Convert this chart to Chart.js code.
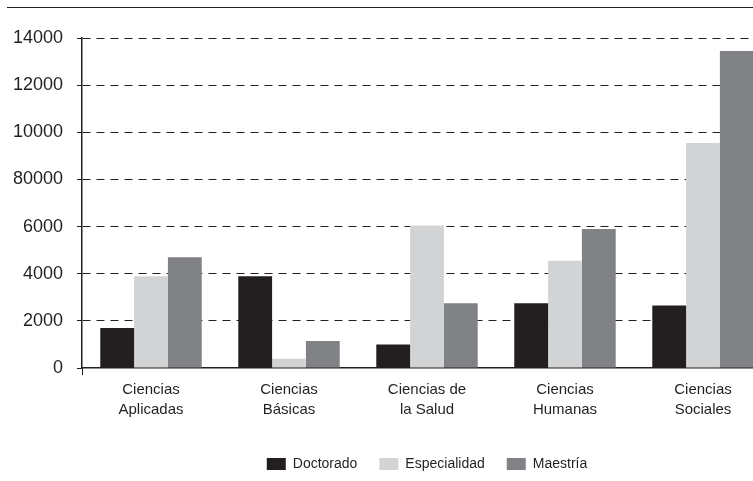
<!DOCTYPE html>
<html>
<head>
<meta charset="utf-8">
<script src="https://cdn.jsdelivr.net/npm/chart.js@4.4.0/dist/chart.umd.min.js"></script>
<style>
  html, body { margin: 0; padding: 0; background: #fff; overflow: hidden; }
  #wrap { position: relative; width: 753px; height: 481px; overflow: hidden; }
  #rule { position: absolute; left: 7px; right: 0; top: 7px; border-top: 1.5px solid #231f20; }
  #chart { position: absolute; left: 0; top: 0; }
</style>
</head>
<body>
<div id="wrap">
  <div id="rule"></div>
  <canvas id="chart" width="772" height="481"></canvas>
</div>
<script>
// datos
const categorias = [
  ['Ciencias', 'Aplicadas'],
  ['Ciencias', 'Básicas'],
  ['Ciencias de', 'la Salud'],
  ['Ciencias', 'Humanas'],
  ['Ciencias', 'Sociales']
];
const doctorado = [1700, 3900, 1000, 2750, 2650];
const especialidad = [3900, 400, 6050, 4550, 9550];
const maestria = [4700, 1150, 2750, 5900, 13450];
// etiquetas del eje tal como aparecen (incluye el 80000 del original)
const etiquetasY = ['0', '2000', '4000', '6000', '80000', '10000', '12000', '14000'];

const FUENTE = "'Liberation Sans Narrow', 'Arial Narrow', 'Liberation Sans', sans-serif";
const NEGRO = '#231f20';

const ctx = document.getElementById('chart').getContext('2d');
const chart = new Chart(ctx, {
  type: 'bar',
  data: {
    labels: categorias,
    datasets: [
      { label: 'Doctorado', data: doctorado, backgroundColor: '#231f20' },
      { label: 'Especialidad', data: especialidad, backgroundColor: '#d1d3d4' },
      { label: 'Maestría', data: maestria, backgroundColor: '#808285' }
    ]
  },
  options: {
    responsive: false,
    animation: false,
    events: [],
    layout: { padding: { top: 38, right: 0, bottom: 0, left: 0 } },
    datasets: { bar: { categoryPercentage: 0.735, barPercentage: 1 } },
    plugins: {
      tooltip: { enabled: false },
      legend: {
        position: 'bottom',
        fullSize: false,
        labels: {
          color: NEGRO,
          font: { family: FUENTE, size: 14 },
          boxWidth: 19,
          boxHeight: 12,
          padding: 22
        }
      }
    },
    scales: {
      x: {
        afterFit: s => { s.height += 10; },
        grid: {
          drawOnChartArea: false,
          tickLength: 7,
          tickColor: c => c.index === 0 ? NEGRO : 'rgba(0,0,0,0)'
        },
        border: { color: NEGRO, width: 1.5 },
        ticks: {
          color: NEGRO,
          font: { family: FUENTE, size: 15, lineHeight: 1.33 },
          padding: 5,
          maxRotation: 0,
          autoSkip: false
        }
      },
      y: {
        min: 0,
        max: 14000,
        afterFit: s => { s.width = 82; },
        grid: {
          color: c => c.tick && c.tick.value === 0 ? 'rgba(0,0,0,0)' : NEGRO,
          tickColor: NEGRO,
          tickLength: 5,
          tickBorderDash: []
        },
        border: { color: NEGRO, width: 1.5, dash: [8, 6] },
        ticks: {
          stepSize: 2000,
          color: NEGRO,
          font: { family: FUENTE, size: 18 },
          padding: 14,
          callback: (v, i) => etiquetasY[i]
        }
      }
    }
  }
});
</script>
</body>
</html>
